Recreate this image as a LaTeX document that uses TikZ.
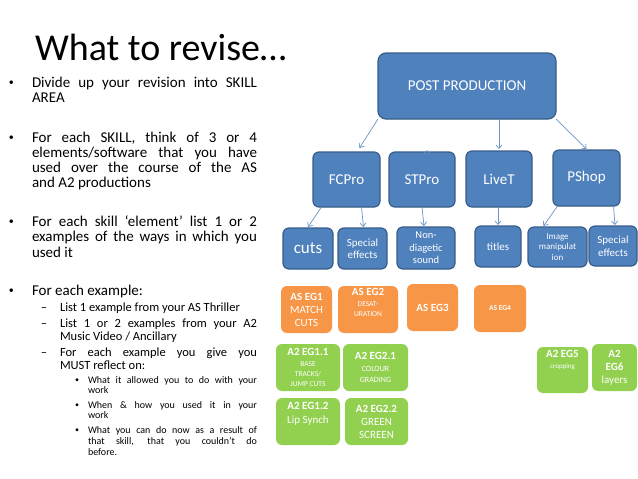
\documentclass[tikz,border=0pt]{standalone}
\usepackage{fontspec}
\setmainfont{Carlito}
\usetikzlibrary{arrows.meta,calc}
\definecolor{blu}{HTML}{4F81BD}
\definecolor{bluedge}{HTML}{385D8A}
\definecolor{org}{HTML}{F79646}
\definecolor{grn}{HTML}{92D050}
\newcommand\fs[2]{\fontsize{#1}{#2}\selectfont}
\newcommand\jline[2]{\makebox[#1][s]{#2}}
\newcommand\lA{\fontsize{15}{15}\selectfont}
\newcommand\lB{\fontsize{12.5}{13}\selectfont}
\newcommand\lC{\fontsize{10}{11}\selectfont}
\newcommand\dotA{\fontsize{10}{10}\selectfont}
\newcommand\sm{\fontsize{7.5}{10}\selectfont}
\newcommand\bx[7]{\node[#1, minimum width={(#5-#3)*1pt}, minimum height={(#6-#4)*1pt}] (#2) at ({(#3+#5)/2},{(#4+#6)/2}) {#7};}
\begin{document}
\begin{tikzpicture}[x=1pt,y=-1pt,
 every node/.style={inner sep=0pt, outer sep=0pt},
 bluebox/.style={rounded corners=6pt, fill=blu, draw=bluedge, line width=1.2pt, text=white, align=center},
 orgbox/.style={rounded corners=6pt, fill=org, text=white, align=center, font=\fs{11}{13}},
 grnbox/.style={rounded corners=6pt, fill=grn, text=white, align=center, font=\fs{11}{13}},
 arr/.style={draw=blu!85!white, line width=0.7pt, -{Straight Barb[length=3.5pt,width=6pt]}},
 txt/.style={anchor=base west, text=black},
]
\fill[white] (0,0) rectangle (638,479);
\useasboundingbox (0,0) rectangle (638,479);

% title
\node[txt] (title) at (35,60) {\fs{38}{38}What to revise…};

% level 1
\node[txt] (d1) at (9,85) {\dotA •};
\node[txt] (a1) at (32,87) {\lA\jline{225pt}{Divide up your revision into SKILL}};
\node[txt] (a2) at (32,102) {\lA AREA};
\node[txt] (d2) at (9,140) {\dotA •};
\node[txt] (a3) at (32,142) {\lA\jline{225pt}{For each SKILL, think of 3 or 4}};
\node[txt] (a4) at (32,157) {\lA\jline{225pt}{elements/software that you have}};
\node[txt] (a5) at (32,172) {\lA\jline{225pt}{used over the course of the AS}};
\node[txt] (a6) at (32,187) {\lA and A2 productions};
\node[txt] (d3) at (9,224) {\dotA •};
\node[txt] (a7) at (32,226) {\lA\jline{225pt}{For each skill ‘element’ list 1 or 2}};
\node[txt] (a8) at (32,241) {\lA\jline{225pt}{examples of the ways in which you}};
\node[txt] (a9) at (32,257) {\lA used it};
\node[txt] (d4) at (9,293) {\dotA •};
\node[txt] (a10) at (32,295) {\lA For each example:};

% level 2
\node[txt] (e1d) at (41,311) {\lB –};
\node[txt] (b1) at (60,311) {\lB List 1 example from your AS Thriller};
\node[txt] (e2d) at (41,327) {\lB –};
\node[txt] (b2) at (60,327) {\lB\jline{197pt}{List 1 or 2 examples from your A2}};
\node[txt] (b3) at (60,340) {\lB Music Video / Ancillary};
\node[txt] (e3d) at (41,356) {\lB –};
\node[txt] (b4) at (60,356) {\lB\jline{197pt}{For each example you give you}};
\node[txt] (b5) at (60,369) {\lB MUST reflect on:};

% level 3
\node[txt] (f1d) at (75,382) {\fs{8}{8}•};
\node[txt] (c1) at (88,383) {\lC\jline{169pt}{What it allowed you to do with your}};
\node[txt] (c2) at (88,393) {\lC work};
\node[txt] (f2d) at (75,407) {\fs{8}{8}•};
\node[txt] (c3) at (88,408) {\lC\jline{169pt}{When \& how you used it in your}};
\node[txt] (c4) at (88,418) {\lC work};
\node[txt] (f3d) at (75,432) {\fs{8}{8}•};
\node[txt] (c5) at (88,433) {\lC\jline{169pt}{What you can do now as a result of}};
\node[txt] (c6) at (88,444) {\lC\jline{169pt}{that skill, that you couldn’t do}};
\node[txt] (c7) at (88,455) {\lC before.};

% blue boxes
\bx{bluebox, rounded corners=8pt, font=\fs{15}{18}}{pp}{378}{53}{556}{119}{POST PRODUCTION}
\bx{bluebox, font=\fs{15}{18}}{fc}{313}{152}{380}{207}{FCPro}
\bx{bluebox, font=\fs{15}{18}}{st}{389}{152}{455}{207}{STPro}
\bx{bluebox, font=\fs{15}{18}}{lt}{466}{151}{532}{207}{LiveT}
\bx{bluebox, font=\fs{15}{18}}{ps}{553}{150}{620}{206}{PShop}

\bx{bluebox, font=\fs{17}{18}}{cuts}{283}{228}{333}{269}{cuts}
\bx{bluebox, font=\fs{11}{12.5}}{sp1}{338}{228}{387}{269}{Special\\effects}
\bx{bluebox, font=\fs{10.5}{12.5}}{nd}{397}{227}{455}{269}{Non-\\diagetic\\sound}
\bx{bluebox, font=\fs{11}{12}}{ti}{475}{226}{521}{267}{titles}
\bx{bluebox, font=\fs{9}{10.5}}{im}{528}{227}{587}{267}{Image\\manipulat\\ion}
\bx{bluebox, font=\fs{11}{13}}{sp2}{589}{226}{637}{266}{Special\\effects}

% orange boxes
\bx{orgbox}{as1}{281}{286}{332}{333}{\textbf{AS EG1}\\MATCH\\CUTS}
\bx{orgbox}{as2}{338}{286}{398}{333}{\textbf{AS EG2}\\[-2pt]\sm DESAT-\\[-3pt]\sm URATION\\[2pt]}
\bx{orgbox}{as3}{407}{284}{458}{331}{\textbf{AS EG3}}
\bx{orgbox}{as4}{474}{285}{526}{332}{\sm\textbf{AS EG4}}

% green boxes
\bx{grnbox}{g11}{276}{344}{340}{391}{\textbf{A2 EG1.1}\\[-2pt]\sm BASE\\[-3pt]\sm TRACKS/\\[-3pt]\sm JUMP CUTS}
\bx{grnbox}{g21}{343}{344}{408}{391}{\textbf{A2 EG2.1}\\[-1pt]\fs{8}{11}COLOUR\\[-2pt]\fs{8}{11}GRADING}
\bx{grnbox}{g12}{276}{398}{340}{445}{\textbf{A2 EG1.2}\\[1pt]Lip Synch\\[4pt]}
\bx{grnbox}{g22}{345}{398}{408}{445}{\textbf{A2 EG2.2}\\GREEN\\SCREEN}
\bx{grnbox}{g5}{537}{347}{588}{393}{\textbf{A2 EG5}\\[-2pt]\fs{7}{10}cropping\\[8pt]}
\bx{grnbox}{g6}{592}{344}{637}{391}{\textbf{A2}\\\textbf{EG6}\\layers}

% arrows level 1
\draw[arr] (pp.south west) -- ($(fc.north)+(13,-4)$);
\draw[arr] ($(st.north)+(5,0)$ |- pp.south) -- ($(st.north)+(5,-2)$);
\draw[arr] (lt.north |- pp.south) -- ($(lt.north)+(0,-2)$);
\draw[arr] (pp.south east) -- ($(ps.north)+(0,-1)$);

% arrows level 2
\draw[arr] ($(fc.south)+(-25,0)$) -- ($(cuts.north)+(0,-1)$);
\draw[arr] ($(fc.south)+(15,0)$) -- ($(sp1.north)+(1,-1)$);
\draw[arr] (st.south) -- ($(nd.north)+(-2,-1)$);
\draw[arr] (ti.north |- lt.south) -- ($(ti.north)+(0,-1)$);
\draw[arr] ($(ps.south)+(-29,0)$) -- ($(im.north)+(-14,-1)$);
\draw[arr] ($(ps.south)+(27,0)$) -- ($(sp2.north)+(2,-1)$);
\end{tikzpicture}
\end{document}
